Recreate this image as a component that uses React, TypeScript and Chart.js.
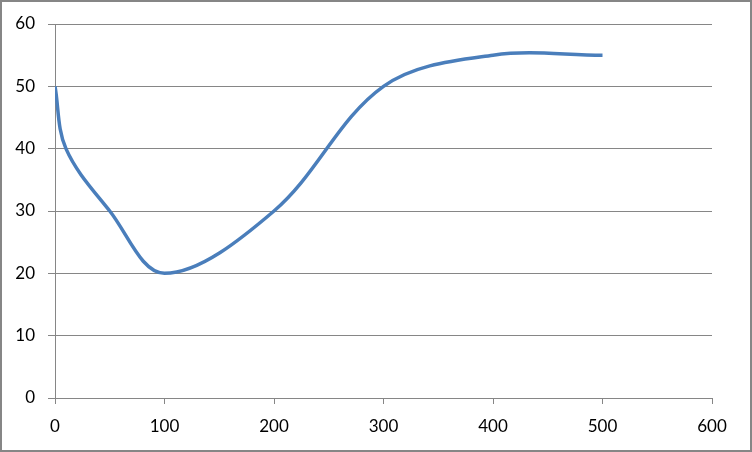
import React, { useEffect, useRef } from "react";
import { Chart, registerables } from "chart.js";

Chart.register(...registerables);

const xValues = [0, 10, 50, 100, 200, 300, 400, 500];
const yValues = [50, 40, 30, 20, 30, 50, 55, 55];
const xTicks = [0, 100, 200, 300, 400, 500, 600];
const yTicks = [0, 10, 20, 30, 40, 50, 60];

const GRAY = "#868686";
const FONT = "Lato, Carlito, Calibri, 'Liberation Sans', sans-serif";

export default function App() {
  const ref = useRef<HTMLCanvasElement | null>(null);
  useEffect(() => {
    document.body.style.margin = "0";
    const ctx = ref.current!;
    const chart = new Chart(ctx, {
      type: "scatter",
      data: {
        datasets: [
          {
            data: xValues.map((x, i) => ({ x, y: yValues[i] })),
            showLine: true,
            borderColor: "#4A7EBB",
            borderWidth: 3.5,
            pointRadius: 0,
            tension: 0.35,
            borderCapStyle: "butt",
          },
        ],
      },
      options: {
        animation: false,
        responsive: false,
        layout: { padding: { left: 0, top: 24, right: 40, bottom: 0 } },
        plugins: { legend: { display: false }, tooltip: { enabled: false } },
        scales: {
          x: {
            type: "linear",
            min: 0,
            max: 600,
            afterBuildTicks: (s: any) => {
              s.ticks = xTicks.map((v) => ({ value: v }));
            },
            afterFit: (s: any) => {
              s.height = 54;
            },
            grid: {
              drawOnChartArea: false,
              drawTicks: true,
              tickLength: 6,
              color: GRAY,
              lineWidth: 1,
            },
            border: { color: GRAY, width: 1 },
            ticks: {
              color: "#000",
              font: { family: FONT, size: 17 },
              padding: 12,
              maxRotation: 0,
            },
          },
          y: {
            type: "linear",
            min: 0,
            max: 60,
            afterBuildTicks: (s: any) => {
              s.ticks = yTicks.map((v) => ({ value: v }));
            },
            afterFit: (s: any) => {
              s.width = 55;
            },
            grid: {
              drawOnChartArea: true,
              drawTicks: true,
              tickLength: 7,
              color: GRAY,
              lineWidth: 1,
            },
            border: { color: GRAY, width: 1 },
            ticks: {
              color: "#000",
              font: { family: FONT, size: 17 },
              padding: 13,
            },
          },
        },
      },
    });
    return () => chart.destroy();
  }, []);
  return (
    <div
      style={{
        position: "relative",
        width: 752,
        height: 452,
        boxSizing: "border-box",
        border: `2px solid ${GRAY}`,
        overflow: "hidden",
        background: "#fff",
      }}
    >
      <canvas
        ref={ref}
        width={752}
        height={452}
        style={{ position: "absolute", left: -2, top: -2, width: 752, height: 452 }}
      />
    </div>
  );
}
